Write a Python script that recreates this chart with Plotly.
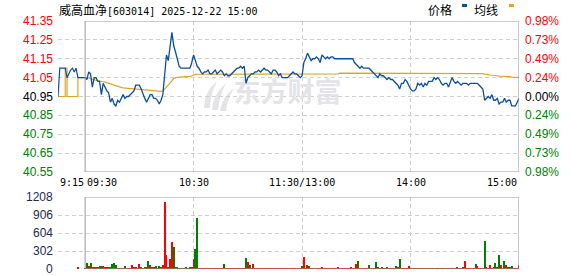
import plotly.graph_objects as go

# ---------------- data ----------------
title_text = "威高血净[603014] 2025-12-22 15:00"
prev_close = 40.95

price_ticks = [41.35, 41.25, 41.15, 41.05, 40.95, 40.85, 40.75, 40.65, 40.55]
pct_labels = ["0.98%", "0.73%", "0.49%", "0.24%", "0.00%", "0.24%", "0.49%", "0.73%", "0.98%"]
vol_ticks = [1208, 906, 604, 302, 0]

# x labels: (minute offset from 09:30, text)
time_labels = ["9:15", "09:30", "10:30", "11:30/13:00", "14:00", "15:00"]
time_label_pos = [-15, 0, 60, 120, 180, 240]

# call auction (minutes before 09:30)
pre_minutes = [-15, -14, -13, -12, -11, -10, -9, -8, -7, -6, -5, -4, -3, -2, -1, 0]
pre_price = [40.95, 41.10, 41.10, 41.10, 41.10, 41.05, 41.07, 41.09, 41.10, 41.08, 41.10,
             41.05, 41.05, 41.05, 41.05, 41.05]
pre_avg = [40.95, 40.95, 40.95, 40.95, 41.10, 40.95, 40.95, 40.95, 40.95, 40.95, 40.95,
           41.05, 41.05, 41.05, 41.05, 41.05]
pre_vol_minute = [-4]
pre_vol = [17]

# continuous trading, one value per minute (0 = 09:30, 120 = 11:30/13:00, 240 = 15:00)
price = [
    41.05, 41.04, 41.08, 41.07, 41.00, 41.05, 41.05, 41.03, 41.03, 40.96,
    41.02, 41.00, 40.98, 40.97, 40.92, 40.94, 40.91, 40.90, 40.93, 40.92,
    40.94, 40.96, 40.94, 40.95, 40.95, 40.96, 40.97, 40.98, 41.01, 41.01,
    41.01, 40.99, 40.96, 40.94, 40.92, 40.94, 40.96, 40.96, 40.94, 40.94,
    40.93, 40.91, 40.93, 40.96, 41.05, 41.17, 41.14, 41.22, 41.29, 41.22,
    41.19, 41.15, 41.11, 41.10, 41.10, 41.10, 41.10, 41.10, 41.10, 41.13,
    41.17, 41.14, 41.11, 41.10, 41.08, 41.07, 41.08, 41.08, 41.09, 41.07,
    41.07, 41.08, 41.09, 41.07, 41.08, 41.09, 41.08, 41.06, 41.07, 41.06,
    41.06, 41.07, 41.08, 41.09, 41.10, 41.10, 41.11, 41.10, 41.11, 41.02,
    41.05, 41.06, 41.07, 41.07, 41.08, 41.08, 41.09, 41.08, 41.09, 41.10,
    41.09, 41.09, 41.08, 41.07, 41.09, 41.09, 41.08, 41.06, 41.07, 41.05,
    41.05, 41.05, 41.05, 41.06, 41.07, 41.08, 41.07, 41.07, 41.06, 41.05,
    41.06, 41.13, 41.15, 41.18, 41.16, 41.14, 41.15, 41.15, 41.16, 41.15,
    41.13, 41.17, 41.16, 41.15, 41.16, 41.15, 41.16, 41.16, 41.15, 41.15,
    41.15, 41.15, 41.15, 41.15, 41.15, 41.15, 41.15, 41.15, 41.15, 41.13,
    41.12, 41.11, 41.10, 41.11, 41.10, 41.10, 41.10, 41.10, 41.09, 41.08,
    41.07, 41.06, 41.05, 41.07, 41.06, 41.06, 41.05, 41.04, 41.05, 41.04,
    41.04, 41.03, 41.02, 41.01, 40.99, 41.02, 41.02, 41.04, 41.03, 41.01,
    40.99, 40.98, 40.98, 40.99, 41.02, 41.01, 41.02, 41.00, 41.02, 41.01,
    41.03, 41.03, 41.03, 41.05, 41.04, 41.05, 41.04, 41.02, 41.01, 41.02,
    41.02, 41.00, 41.03, 41.05, 41.03, 41.02, 41.03, 41.02, 41.01, 41.02,
    41.02, 41.02, 41.01, 41.02, 41.02, 41.02, 41.02, 41.02, 41.01, 41.00,
    40.99, 40.93, 40.94, 40.95, 40.94, 40.96, 40.93, 40.93, 40.94, 40.91,
    40.92, 40.92, 40.94, 40.92, 40.93, 40.93, 40.90, 40.90, 40.90, 40.92,
    40.94,
]

avg_price = [
    41.050, 41.050, 41.048, 41.045, 41.040, 41.038, 41.036, 41.033, 41.031, 41.030,
    41.028, 41.026, 41.024, 41.020, 41.017, 41.014, 41.010, 41.006, 41.003, 41.000,
    40.998, 40.996, 40.995, 40.994, 40.993, 40.993, 40.992, 40.991, 40.991, 40.990,
    40.989, 40.988, 40.987, 40.986, 40.985, 40.984, 40.983, 40.982, 40.981, 40.980,
    40.979, 40.978, 40.977, 40.978, 40.990, 41.005, 41.012, 41.022, 41.035, 41.045,
    41.050, 41.052, 41.053, 41.054, 41.054, 41.055, 41.055, 41.056, 41.057, 41.060,
    41.065, 41.067, 41.068, 41.068, 41.068, 41.068, 41.068, 41.068, 41.068, 41.068,
    41.068, 41.068, 41.068, 41.068, 41.068, 41.068, 41.068, 41.068, 41.068, 41.068,
    41.068, 41.068, 41.068, 41.068, 41.068, 41.068, 41.068, 41.068, 41.068, 41.068,
    41.068, 41.068, 41.068, 41.068, 41.068, 41.068, 41.068, 41.068, 41.068, 41.068,
    41.068, 41.068, 41.068, 41.068, 41.068, 41.068, 41.068, 41.068, 41.068, 41.068,
    41.068, 41.068, 41.068, 41.068, 41.068, 41.068, 41.068, 41.068, 41.068, 41.068,
    41.068, 41.070, 41.070, 41.070, 41.070, 41.070, 41.070, 41.070, 41.070, 41.070,
    41.070, 41.070, 41.070, 41.070, 41.070, 41.070, 41.070, 41.070, 41.070, 41.070,
    41.070, 41.074, 41.074, 41.074, 41.074, 41.074, 41.074, 41.074, 41.074, 41.074,
    41.074, 41.074, 41.074, 41.074, 41.074, 41.074, 41.074, 41.074, 41.074, 41.074,
    41.074, 41.074, 41.074, 41.074, 41.074, 41.074, 41.074, 41.074, 41.074, 41.074,
    41.074, 41.074, 41.074, 41.074, 41.074, 41.074, 41.074, 41.074, 41.074, 41.074,
    41.074, 41.074, 41.074, 41.074, 41.074, 41.074, 41.074, 41.074, 41.074, 41.074,
    41.074, 41.074, 41.074, 41.074, 41.074, 41.074, 41.074, 41.074, 41.074, 41.074,
    41.074, 41.074, 41.074, 41.074, 41.074, 41.074, 41.074, 41.074, 41.074, 41.074,
    41.074, 41.074, 41.074, 41.074, 41.074, 41.074, 41.074, 41.074, 41.074, 41.073,
    41.071, 41.069, 41.069, 41.066, 41.064, 41.062, 41.062, 41.060, 41.060, 41.058,
    41.058, 41.056, 41.056, 41.056, 41.056, 41.055, 41.053, 41.052, 41.051, 41.051,
    41.051,
]

volume = [
    12, 100, 44, 100, 28, 28, 17, 17, 55, 44,
    55, 17, 17, 17, 17, 89, 105, 72, 11, 11,
    11, 11, 44, 11, 11, 11, 72, 28, 28, 11,
    89, 17, 11, 17, 17, 127, 72, 17, 17, 55,
    11, 44, 28, 61, 1125, 238, 39, 172, 460, 377,
    17, 17, 11, 11, 11, 11, 17, 11, 28, 17,
    172, 338, 859, 8, 12, 12, 12, 12, 12, 12,
    12, 12, 12, 12, 12, 12, 12, 89, 12, 12,
    12, 12, 12, 12, 12, 12, 12, 12, 12, 188,
    116, 72, 12, 89, 12, 12, 12, 12, 12, 12,
    12, 12, 12, 12, 12, 12, 12, 12, 12, 12,
    12, 12, 12, 12, 12, 12, 12, 12, 12, 12,
    55, 194, 12, 72, 55, 12, 11, 11, 12, 11,
    12, 39, 11, 11, 11, 12, 12, 11, 12, 12,
    22, 12, 12, 11, 12, 12, 12, 22, 12, 12,
    89, 127, 12, 12, 12, 11, 12, 72, 12, 12,
    12, 111, 39, 12, 22, 12, 11, 39, 12, 12,
    12, 12, 55, 22, 172, 12, 12, 11, 12, 55,
    11, 12, 12, 12, 12, 12, 12, 12, 12, 12,
    12, 12, 12, 12, 12, 12, 12, 12, 12, 12,
    12, 12, 12, 12, 12, 12, 22, 12, 12, 22,
    139, 11, 12, 12, 12, 12, 89, 55, 12, 11,
    12, 471, 17, 12, 72, 12, 17, 105, 17, 238,
    72, 12, 139, 72, 17, 39, 55, 12, 12, 12,
    72,
]

# 1 = up (red), -1 = down (green)
vol_dir = [
    1, -1, 1, -1, 1, 1, 1, -1, -1, -1,
    1, 1, 1, -1, -1, -1, -1, -1, 1, 1,
    -1, 1, -1, 1, 1, 1, 1, 1, 1, 1,
    1, -1, 1, -1, 1, -1, 1, -1, 1, -1,
    1, -1, 1, 1, 1, 1, -1, 1, 1, -1,
    -1, -1, 1, -1, -1, 1, 1, -1, -1, 1,
    1, -1, -1, 1, 1, 1, 1, 1, 1, 1,
    1, 1, 1, 1, 1, 1, 1, -1, 1, 1,
    1, 1, 1, 1, 1, 1, 1, 1, 1, -1,
    1, -1, 1, 1, 1, 1, 1, 1, 1, 1,
    1, 1, 1, 1, 1, 1, 1, 1, 1, 1,
    1, 1, 1, 1, 1, 1, 1, 1, 1, 1,
    -1, 1, 1, 1, -1, 1, -1, -1, 1, 1,
    1, 1, 1, -1, 1, 1, 1, 1, 1, 1,
    -1, 1, 1, 1, 1, 1, 1, 1, 1, 1,
    1, -1, 1, 1, 1, 1, 1, -1, 1, 1,
    1, -1, -1, 1, -1, 1, -1, -1, 1, 1,
    1, 1, -1, 1, -1, 1, 1, 1, 1, 1,
    -1, 1, 1, -1, 1, 1, -1, 1, -1, 1,
    1, -1, 1, -1, 1, 1, -1, 1, 1, -1,
    1, -1, 1, 1, -1, 1, -1, 1, 1, -1,
    1, 1, 1, 1, 1, 1, -1, 1, 1, -1,
    1, -1, 1, 1, 1, 1, 1, -1, 1, -1,
    1, 1, -1, 1, -1, 1, -1, 1, 1, 1,
    1,
]

minutes = list(range(len(price)))

# ---------------- style ----------------
W, H = 578, 276
ML, MR, MT, MB = 58, 59, 21, 7
PW = W - ML - MR
PH = H - MT - MB

def px(xp):
    return (xp - ML) / PW

def py(yp):
    return (H - MB - yp) / PH

RED = "#ff0000"
GREEN = "#008000"
BLUE = "#0a4ea3"
ORANGE = "#e0a526"
GRID = "#cfcfcf"
BOX = "#999999"
WM = "#e4e4e8"
NUM_FONT = "Liberation Sans, Arial, sans-serif"
MONO_FONT = "DejaVu Sans Mono, monospace"
CJK_FONT = "Noto Sans CJK SC, sans-serif"

def level_color(v):
    if v > prev_close + 1e-9:
        return RED
    if v < prev_close - 1e-9:
        return GREEN
    return "#000000"

fig = go.Figure()

# watermark (drawn first so it sits under the lines)
fig.add_trace(go.Scatter(
    x=[112], y=[40.955], mode="text", text=["<b>东方财富</b>"],
    textfont=dict(family=CJK_FONT, size=27, color=WM),
    hoverinfo="skip", showlegend=False, xaxis="x", yaxis="y"))

# call-auction lines
fig.add_trace(go.Scatter(x=pre_minutes, y=pre_avg, mode="lines", line=dict(color=ORANGE, width=1.2, shape="hv"),
                         showlegend=False, xaxis="x", yaxis="y"))
fig.add_trace(go.Scatter(x=pre_minutes, y=pre_price, mode="lines", line=dict(color=BLUE, width=1.2),
                         showlegend=False, xaxis="x", yaxis="y"))

# intraday lines
fig.add_trace(go.Scatter(x=minutes, y=avg_price, mode="lines", line=dict(color=ORANGE, width=1.2),
                         showlegend=False, xaxis="x", yaxis="y"))
fig.add_trace(go.Scatter(x=minutes, y=price, mode="lines", line=dict(color=BLUE, width=1.3),
                         showlegend=False, xaxis="x", yaxis="y"))

# volume bars
bar_colors = [RED if d > 0 else GREEN for d in vol_dir]
fig.add_trace(go.Bar(x=minutes, y=volume, marker=dict(color=bar_colors, line=dict(width=0)), width=0.6,
                     showlegend=False, xaxis="x2", yaxis="y2"))
fig.add_trace(go.Bar(x=pre_vol_minute, y=pre_vol, marker=dict(color=RED, line=dict(width=0)), width=0.6,
                     showlegend=False, xaxis="x2", yaxis="y2"))

xr = [-15, 240]
axis_common = dict(showgrid=True, gridcolor=GRID, griddash="4px,3px", gridwidth=1,
                   zeroline=False, showline=False, ticks="", showticklabels=False, fixedrange=True)

fig.update_layout(
    width=W, height=H,
    margin=dict(l=ML, r=MR, t=MT, b=MB),
    paper_bgcolor="white", plot_bgcolor="white",
    showlegend=False, bargap=0,
    xaxis=dict(range=xr, domain=[0, 1], anchor="y", tickvals=[-15, 60, 120, 180], **axis_common),
    yaxis=dict(range=[price_ticks[-1], price_ticks[0]], domain=[py(172), 1], anchor="x",
               tickvals=price_ticks, **axis_common),
    xaxis2=dict(range=xr, domain=[0, 1], anchor="y2", tickvals=[-15, 60, 120, 180], **axis_common),
    yaxis2=dict(range=[0, vol_ticks[0]], domain=[0, py(197)], anchor="x2",
                tickvals=vol_ticks, **axis_common),
)

def wm_path(points):
    # points: list of (cmd, [(x,y)...]) in pixel coordinates -> paper coordinates
    out = []
    for cmd, pts in points:
        out.append(cmd + " " + " ".join(f"{px(a):.5f},{py(b):.5f}" for a, b in pts))
    return " ".join(out) + " Z"

blades = [
    [("M", [(204, 108)]), ("Q", [(204, 92), (217, 81)]), ("Q", [(210, 95), (210, 108)])],
    [("M", [(212, 110)]), ("Q", [(213, 94), (226, 83)]), ("Q", [(219, 97), (218, 110)])],
    [("M", [(220, 111)]), ("Q", [(222, 97), (234, 88)]), ("Q", [(227, 100), (226, 111)])],
]

shapes = [
    dict(type="rect", xref="x", yref="y", x0=0, x1=240, y0=price_ticks[-1], y1=price_ticks[0],
         line=dict(color=BOX, width=1), layer="above"),
    dict(type="rect", xref="x2", yref="y2", x0=0, x1=240, y0=0, y1=vol_ticks[0],
         line=dict(color=BOX, width=1), layer="above"),
    # legend swatches
    dict(type="rect", xref="paper", yref="paper", x0=px(462), x1=px(467), y0=py(7), y1=py(4),
         fillcolor=BLUE, line=dict(width=0)),
    dict(type="rect", xref="paper", yref="paper", x0=px(509), x1=px(514), y0=py(7), y1=py(4),
         fillcolor=ORANGE, line=dict(width=0)),
]
for b in blades:
    shapes.append(dict(type="path", xref="paper", yref="paper", path=wm_path(b),
                       fillcolor=WM, line=dict(width=0), layer="below"))

ann = []
for v, lab in zip(price_ticks, pct_labels):
    c = level_color(v)
    ann.append(dict(xref="paper", yref="y", x=px(55), y=v, text=f"{v:.2f}", showarrow=False,
                    xanchor="right", yanchor="middle", font=dict(family=NUM_FONT, size=12, color=c)))
    ann.append(dict(xref="paper", yref="y", x=px(523), y=v, text=lab, showarrow=False,
                    xanchor="left", yanchor="middle", font=dict(family=NUM_FONT, size=12, color=c)))
for v in vol_ticks:
    ann.append(dict(xref="paper", yref="y2", x=px(55), y=v, text=str(v), showarrow=False,
                    xanchor="right", yanchor="middle", font=dict(family=NUM_FONT, size=12, color="#1e2850")))
anchors = {-15: "left", 0: "left", 240: "right"}
for pos, lab in zip(time_label_pos, time_labels):
    ann.append(dict(xref="x", yref="paper", x=pos, y=py(182), text=lab, showarrow=False,
                    xanchor=anchors.get(pos, "center"), yanchor="middle",
                    font=dict(family=MONO_FONT, size=10, color="#000000")))
# title
cjk, rest = title_text.split("[", 1)
ann.append(dict(xref="paper", yref="paper", x=px(57), y=py(10),
                text=f"{cjk}<span style='font-family:DejaVu Sans Mono;font-size:10px'>[{rest}</span>",
                showarrow=False, xanchor="left", yanchor="middle",
                font=dict(family=CJK_FONT, size=12, color="#000000")))
# legend texts
ann.append(dict(xref="paper", yref="paper", x=px(440), y=py(9), text="价格", showarrow=False,
                xanchor="center", yanchor="middle", font=dict(family=CJK_FONT, size=12, color="#000000")))
ann.append(dict(xref="paper", yref="paper", x=px(486), y=py(9), text="均线", showarrow=False,
                xanchor="center", yanchor="middle", font=dict(family=CJK_FONT, size=12, color="#000000")))

fig.update_layout(shapes=shapes, annotations=ann)
fig.write_html("out.html", config={"displayModeBar": False})
